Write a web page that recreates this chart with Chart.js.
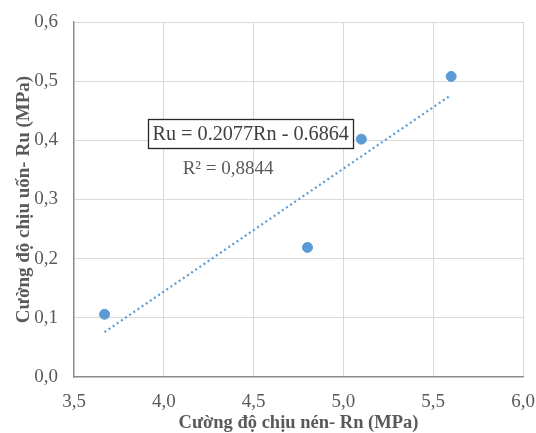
<!DOCTYPE html>
<html>
<head>
<meta charset="utf-8">
<script src="https://cdn.jsdelivr.net/npm/chart.js@4.4.1/dist/chart.umd.min.js"></script>
<style>
  html, body { margin: 0; padding: 0; background: #fff; }
  #wrap { width: 536px; height: 433px; position: relative; }
</style>
</head>
<body>
<div id="wrap"><canvas id="c"></canvas></div>
<script>
// Measured samples: compressive strength Rn vs flexural strength Ru (MPa)
const rnValues = [3.67, 4.80, 5.10, 5.60];
const ruValues = [0.106, 0.219, 0.402, 0.508];

// Linear trend reported on the chart
const trendSlope = 0.2077;
const trendIntercept = -0.6864;
const trendLabel = 'Ru = 0.2077Rn - 0.6864';
const r2Label = 'R² = 0,8844';

const xTicks = [3.5, 4.0, 4.5, 5.0, 5.5, 6.0];
const yTicks = [0.0, 0.1, 0.2, 0.3, 0.4, 0.5, 0.6];

const xTitle = 'Cường độ chịu nén- Rn (MPa)';
const yTitle = 'Cường độ chịu uốn- Ru (MPa)';

const blue = '#5B9BD5';
const serif = '"Liberation Serif", "Times New Roman", serif';

const points = rnValues.map((x, i) => ({ x: x, y: ruValues[i] }));
const xMinData = Math.min(...rnValues);
const xMaxData = Math.max(...rnValues);
const trendPoints = [
  { x: xMinData, y: trendSlope * xMinData + trendIntercept },
  { x: xMaxData, y: trendSlope * xMaxData + trendIntercept }
];

const fmt = v => Number(v).toFixed(1).replace('.', ',');

// Equation box and R² text placed in data space, under the markers
const annotations = {
  id: 'trendText',
  beforeDatasetsDraw(chart) {
    const { ctx, scales } = chart;
    const xs = scales.x, ys = scales.y;
    ctx.save();
    ctx.font = '20.2px ' + serif;
    ctx.textBaseline = 'middle';
    ctx.textAlign = 'left';
    const bx = Math.round(xs.getPixelForValue(3.913));
    const by = ys.getPixelForValue(0.411);
    const w = ctx.measureText(trendLabel).width;
    const padX = 4.5, h = 29;
    ctx.fillStyle = '#ffffff';
    ctx.fillRect(bx, by - h / 2, w + padX * 2, h);
    ctx.strokeStyle = '#262626';
    ctx.lineWidth = 1.3;
    ctx.strokeRect(bx + 0.5, Math.round(by - h / 2) + 0.5, Math.round(w + padX * 2), h);
    ctx.fillStyle = '#404040';
    ctx.fillText(trendLabel, bx + padX, by + 1);
    ctx.fillStyle = '#595959';
    ctx.font = '19px ' + serif;
    ctx.fillText(r2Label, xs.getPixelForValue(4.105), ys.getPixelForValue(0.352));
    ctx.restore();
  }
};

new Chart(document.getElementById('c'), {
  type: 'scatter',
  data: {
    datasets: [
      {
        label: 'Ru',
        data: points,
        backgroundColor: blue,
        borderColor: blue,
        pointRadius: 5,
        pointHoverRadius: 5,
        order: 1
      },
      {
        label: 'Trend',
        type: 'line',
        data: trendPoints,
        borderColor: blue,
        borderWidth: 2.2,
        borderDash: [2, 3],
        pointRadius: 0,
        fill: false,
        order: 2
      }
    ]
  },
  options: {
    responsive: true,
    maintainAspectRatio: false,
    animation: false,
    events: [],
    layout: { padding: { top: 22, right: 13, left: 0, bottom: 0 } },
    plugins: {
      legend: { display: false },
      tooltip: { enabled: false }
    },
    scales: {
      x: {
        type: 'linear',
        min: 3.5,
        max: 6.0,
        afterBuildTicks: s => { s.ticks = xTicks.map(v => ({ value: v })); },
        afterFit: s => { s.height = 56; s.paddingLeft = 0; s.paddingRight = 0; },
        ticks: {
          callback: v => fmt(v),
          color: '#595959',
          font: { family: serif, size: 19 },
          padding: 14,
          maxRotation: 0
        },
        grid: { color: '#d9d9d9', lineWidth: 1, drawTicks: false },
        border: { color: '#8c8c8c', width: 1.3 },
        title: {
          display: true,
          text: xTitle,
          color: '#595959',
          font: { family: serif, size: 18.5, weight: 'bold' },
          padding: { top: 0, bottom: -1 }
        }
      },
      y: {
        type: 'linear',
        min: 0,
        max: 0.6,
        afterBuildTicks: s => { s.ticks = yTicks.map(v => ({ value: v })); },
        afterFit: s => { s.width = 74; s.paddingTop = 0; s.paddingBottom = 0; },
        ticks: {
          callback: v => fmt(v),
          color: '#595959',
          font: { family: serif, size: 19 },
          padding: 16
        },
        grid: { color: '#d9d9d9', lineWidth: 1, drawTicks: false },
        border: { color: '#8c8c8c', width: 1.3 },
        title: {
          display: true,
          text: yTitle,
          color: '#595959',
          font: { family: serif, size: 19, weight: 'bold' },
          padding: { top: 13, bottom: 13 }
        }
      }
    }
  },
  plugins: [annotations]
});
</script>
</body>
</html>
